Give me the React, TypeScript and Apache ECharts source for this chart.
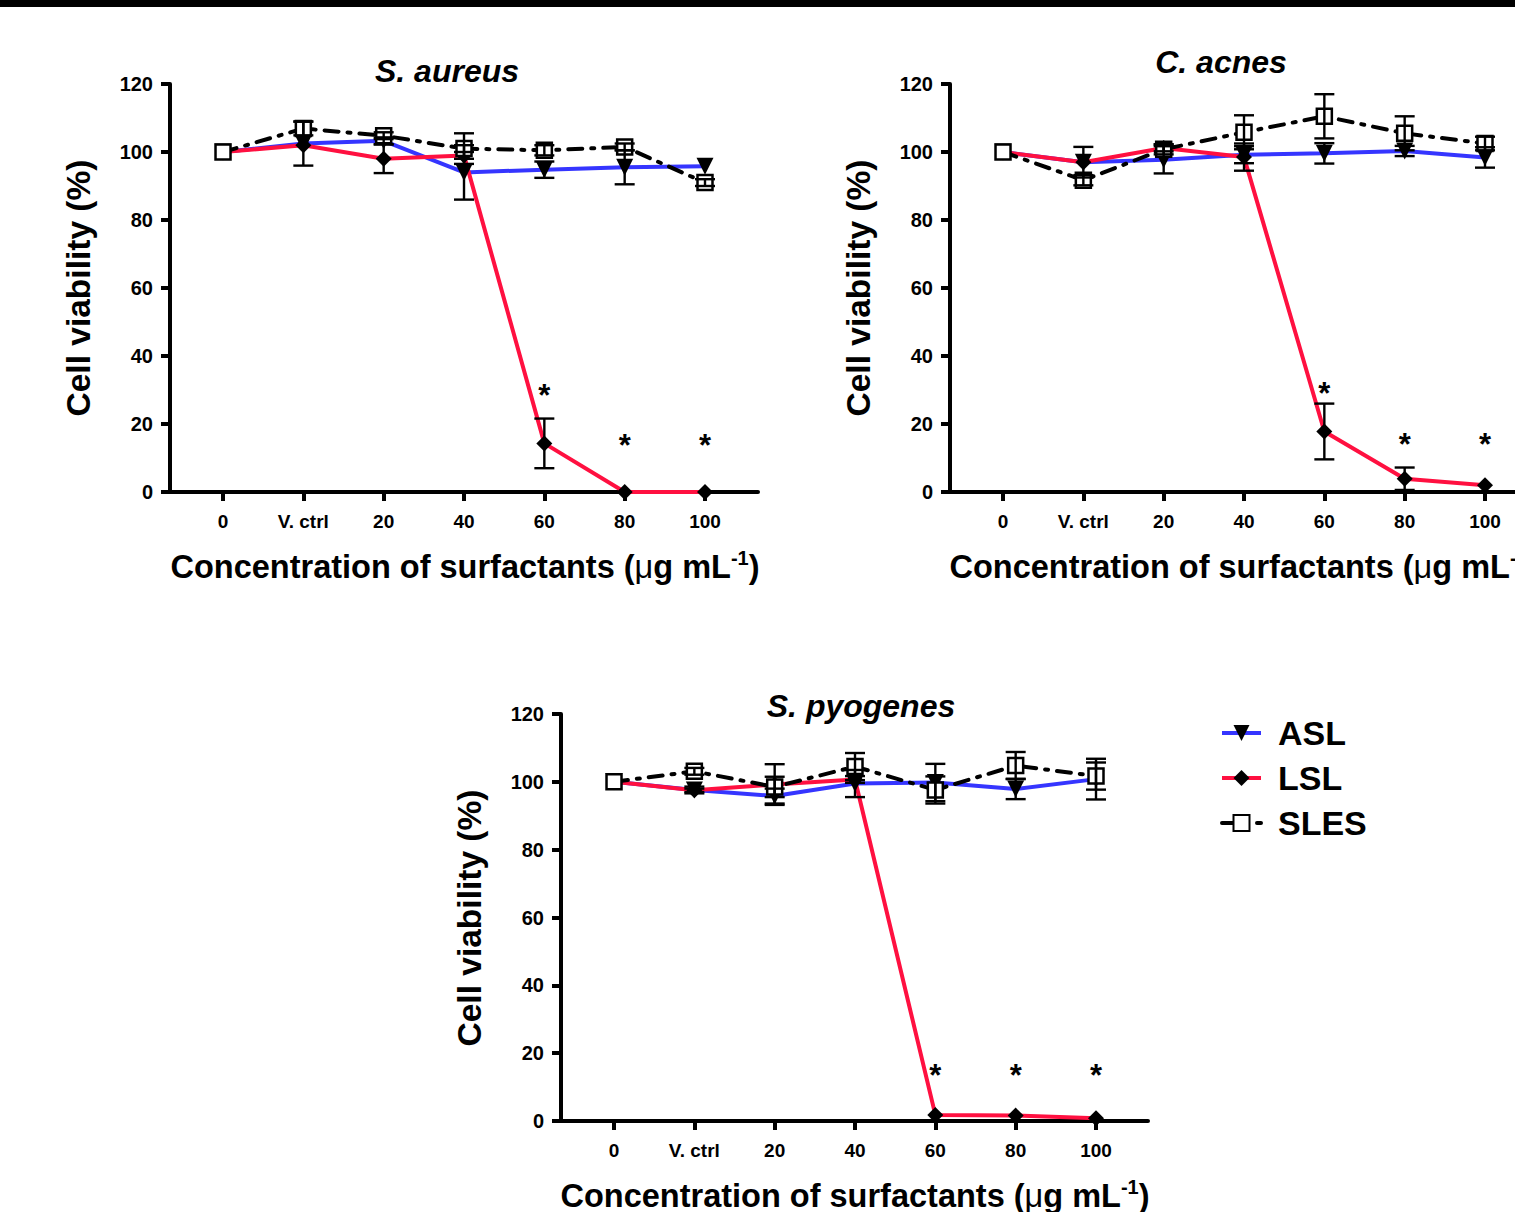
import React, { useEffect, useRef } from 'react';
import * as echarts from 'echarts';

const categories = ['0', 'V. ctrl', '20', '40', '60', '80', '100'];
const positions = [0, 1, 2, 3, 4, 5, 6];
const yTicks = [0, 20, 40, 60, 80, 100, 120];

// S. aureus
const aureusASL = [100, 102.5, 103.3, 94, 94.8, 95.5, 95.8];
const aureusASLsd = [0, 6.5, 1, 8, 2.4, 5, 0];
const aureusLSL = [100, 102, 98, 99, 14.3, 0, 0];
const aureusLSLsd = [0, 0, 4.2, 1, 7.3, 0, 0];
const aureusSLES = [100, 106.9, 104.8, 101, 100.5, 101.5, 91];
const aureusSLESsd = [0, 2, 1, 4.5, 1.5, 1, 1];
const aureusStars = [[4, 28.4], [5, 13.8], [6, 13.8]];

// C. acnes
const acnesASL = [100, 97, 97.7, 99.2, 99.6, 100.3, 98.4];
const acnesASLsd = [0, 4.5, 4, 2.5, 3, 1.5, 3];
const acnesLSL = [100, 97, 101.2, 98.5, 17.8, 3.9, 2];
const acnesLSLsd = [0, 0, 1, 4, 8.2, 3.3, 0];
const acnesSLES = [100, 91.7, 100.8, 105.8, 110.5, 105.5, 102.5];
const acnesSLESsd = [0, 1.5, 1.5, 5, 6.5, 5, 2];
const acnesStars = [[4, 29.0], [5, 14.0], [6, 14.0]];

// S. pyogenes
const pyoASL = [100, 97.6, 95.8, 99.5, 99.8, 97.9, 100.8];
const pyoASLsd = [0, 1, 2.2, 4, 5.5, 3, 6];
const pyoLSL = [100, 97.5, 99.2, 100.7, 1.8, 1.6, 0.8];
const pyoLSLsd = [0, 0.5, 6, 1, 0, 0, 0];
const pyoSLES = [100, 103.1, 98.5, 104.5, 97.6, 104.8, 101.7];
const pyoSLESsd = [0, 1, 3, 4, 4, 4, 4];
const pyoStars = [[4, 13.4], [5, 13.4], [6, 13.4]];

const panelTitles = ['S. aureus', 'C. acnes', 'S. pyogenes'];
const seriesNames = ['ASL', 'LSL', 'SLES'];
const yTitle = 'Cell viability (%)';

const FONT = "'Liberation Sans', Arial, Helvetica, sans-serif";
const BLUE = '#3535ff';
const RED = '#ff1040';

const panels = [
  { asl: aureusASL, aslSd: aureusASLsd, lsl: aureusLSL, lslSd: aureusLSLsd, sles: aureusSLES, slesSd: aureusSLESsd, stars: aureusStars },
  { asl: acnesASL, aslSd: acnesASLsd, lsl: acnesLSL, lslSd: acnesLSLsd, sles: acnesSLES, slesSd: acnesSLESsd, stars: acnesStars },
  { asl: pyoASL, aslSd: pyoASLsd, lsl: pyoLSL, lslSd: pyoLSLsd, sles: pyoSLES, slesSd: pyoSLESsd, stars: pyoStars },
];

const X_MIN = -0.66;
const PX_PER_STEP = 80.33;

// panel 2 is cut by the right page edge in the reference: its axis runs to the edge
const grids = [
  { left: 170, top: 84, width: 588, height: 408 },
  { left: 950, top: 84, width: 565, height: 408 },
  { left: 561, top: 714, width: 587, height: 407 },
];
const xMax = grids.map((g) => X_MIN + g.width / PX_PER_STEP);

const titlePos = [
  [447, 71],
  [1221, 62],
  [861, 706],
];
const yTitlePos = [
  [78, 288],
  [858, 288],
  [469, 918],
];
const xTitlePos = [
  [465, 567],
  [1244, 567],
  [855, 1196],
];

function toPairs(vals: number[]) {
  return vals.map((v, i) => [positions[i], v]);
}

function errSeries(idx: number, means: number[], sds: number[]) {
  return {
    type: 'custom',
    xAxisIndex: idx,
    yAxisIndex: idx,
    z: 4,
    silent: true,
    clip: false,
    data: means.map((m, i) => [positions[i], m, sds[i]]),
    encode: { x: 0, y: 1 },
    renderItem: (params: any, api: any) => {
      const x = api.value(0);
      const m = api.value(1);
      const sd = api.value(2);
      if (!sd) return null;
      const t = api.coord([x, m + sd]);
      const b = api.coord([x, m - sd]);
      const c = 10;
      const st = { stroke: '#000', lineWidth: 2.4 };
      return {
        type: 'group',
        children: [
          { type: 'line', shape: { x1: t[0], y1: t[1], x2: b[0], y2: b[1] }, style: st },
          { type: 'line', shape: { x1: t[0] - c, y1: t[1], x2: t[0] + c, y2: t[1] }, style: st },
          { type: 'line', shape: { x1: b[0] - c, y1: b[1], x2: b[0] + c, y2: b[1] }, style: st },
        ],
      };
    },
  };
}

function starSeries(idx: number, stars: number[][]) {
  return {
    type: 'custom',
    xAxisIndex: idx,
    yAxisIndex: idx,
    z: 6,
    silent: true,
    clip: false,
    data: stars,
    encode: { x: 0, y: 1 },
    renderItem: (params: any, api: any) => {
      const p = api.coord([api.value(0), api.value(1)]);
      return {
        type: 'text',
        x: p[0],
        y: p[1],
        style: {
          text: '*',
          fontSize: 31,
          fontWeight: 'bold',
          fontFamily: FONT,
          fill: '#000',
          align: 'center',
          verticalAlign: 'middle',
        },
      };
    },
  };
}

function buildOption() {
  const series: any[] = [];
  panels.forEach((p, idx) => {
    series.push({
      type: 'line',
      name: seriesNames[0],
      xAxisIndex: idx,
      yAxisIndex: idx,
      data: toPairs(p.asl),
      symbol: 'triangle',
      symbolRotate: 180,
      symbolSize: 17,
      clip: false,
      z: 2,
      lineStyle: { color: BLUE, width: 4 },
      itemStyle: { color: '#000' },
    });
    series.push({
      type: 'line',
      name: seriesNames[1],
      xAxisIndex: idx,
      yAxisIndex: idx,
      data: toPairs(p.lsl),
      symbol: 'diamond',
      symbolSize: 16,
      clip: false,
      z: 2,
      lineStyle: { color: RED, width: 4 },
      itemStyle: { color: '#000' },
    });
    series.push({
      type: 'line',
      name: seriesNames[2],
      xAxisIndex: idx,
      yAxisIndex: idx,
      data: toPairs(p.sles),
      symbol: 'rect',
      symbolSize: 15,
      clip: false,
      z: 3,
      lineStyle: { color: '#000', width: 4, type: [14, 9, 3, 9], cap: 'round' },
      itemStyle: { color: '#fff', borderColor: '#000', borderWidth: 2.5 },
    });
    series.push(errSeries(idx, p.asl, p.aslSd));
    series.push(errSeries(idx, p.lsl, p.lslSd));
    series.push(errSeries(idx, p.sles, p.slesSd));
    series.push(starSeries(idx, p.stars));
  });

  const xAxis = grids.map((g, idx) => ({
    type: 'value',
    gridIndex: idx,
    min: X_MIN,
    max: xMax[idx],
    splitLine: { show: false },
    axisLine: { show: true, onZero: false, lineStyle: { color: '#000', width: 4 } },
    axisTick: { show: true, customValues: positions, length: 9, lineStyle: { color: '#000', width: 4 } },
    axisLabel: {
      customValues: positions,
      formatter: (v: number) => categories[Math.round(v)] ?? '',
      color: '#000',
      fontSize: 19,
      fontWeight: 'bold',
      fontFamily: FONT,
      margin: 20,
    },
  }));

  const yAxis = grids.map((g, idx) => ({
    type: 'value',
    gridIndex: idx,
    min: 0,
    max: 120,
    interval: 20,
    splitLine: { show: false },
    axisLine: { show: true, onZero: false, lineStyle: { color: '#000', width: 4 } },
    axisTick: { show: true, length: 9, lineStyle: { color: '#000', width: 4 } },
    axisLabel: {
      color: '#000',
      fontSize: 20,
      fontWeight: 'bold',
      fontFamily: FONT,
      margin: 17,
      formatter: (v: number) => (yTicks.includes(v) ? String(v) : ''),
    },
  }));

  const graphic: any[] = [
    { type: 'rect', shape: { x: 0, y: 0, width: 1515, height: 7 }, style: { fill: '#000' } },
  ];
  panelTitles.forEach((t, i) => {
    graphic.push({
      type: 'text',
      x: titlePos[i][0],
      y: titlePos[i][1],
      style: {
        text: t,
        fontSize: 32,
        fontWeight: 'bold',
        fontStyle: 'italic',
        fontFamily: FONT,
        fill: '#000',
        align: 'center',
        verticalAlign: 'middle',
      },
    });
    graphic.push({
      type: 'text',
      x: yTitlePos[i][0],
      y: yTitlePos[i][1],
      rotation: Math.PI / 2,
      style: {
        text: yTitle,
        fontSize: 33.5,
        fontWeight: 'bold',
        fontFamily: FONT,
        fill: '#000',
        align: 'center',
        verticalAlign: 'middle',
      },
    });
    graphic.push({
      type: 'text',
      x: xTitlePos[i][0],
      y: xTitlePos[i][1],
      style: {
        text: '{b|Concentration of surfactants (}{mu|μ}{b|g mL}{sup|-1}{b|)}',
        fontFamily: FONT,
        fill: '#000',
        align: 'center',
        verticalAlign: 'middle',
        rich: {
          b: { fontSize: 32.5, fontWeight: 'bold', fontFamily: FONT, fill: '#000', lineHeight: 38 },
          mu: { fontSize: 32.5, fontWeight: 'normal', fontFamily: FONT, fill: '#000', lineHeight: 38 },
          sup: { fontSize: 20, fontWeight: 'bold', fontFamily: FONT, fill: '#000', verticalAlign: 'top', lineHeight: 30 },
        },
      },
    });
  });

  return {
    animation: false,
    backgroundColor: '#fff',
    grid: grids,
    xAxis,
    yAxis,
    legend: {
      data: seriesNames,
      orient: 'vertical',
      left: 1220,
      top: 716,
      padding: 0,
      itemWidth: 39,
      itemHeight: 20,
      itemGap: 11,
      selectedMode: false,
      lineStyle: { width: 4 },
      textStyle: {
        fontSize: 34,
        fontWeight: 'bold',
        fontFamily: FONT,
        color: '#000',
        lineHeight: 34,
        padding: [0, 0, 0, 12],
      },
    },
    graphic,
    series,
  };
}

export default function App() {
  const ref = useRef<HTMLDivElement>(null);
  useEffect(() => {
    document.body.style.margin = '0';
    if (!ref.current) return;
    const chart = echarts.init(ref.current, undefined, { renderer: 'svg' });
    chart.setOption(buildOption() as any);
    return () => chart.dispose();
  }, []);
  return <div ref={ref} style={{ width: 1515, height: 1212, overflow: 'hidden' }} />;
}
